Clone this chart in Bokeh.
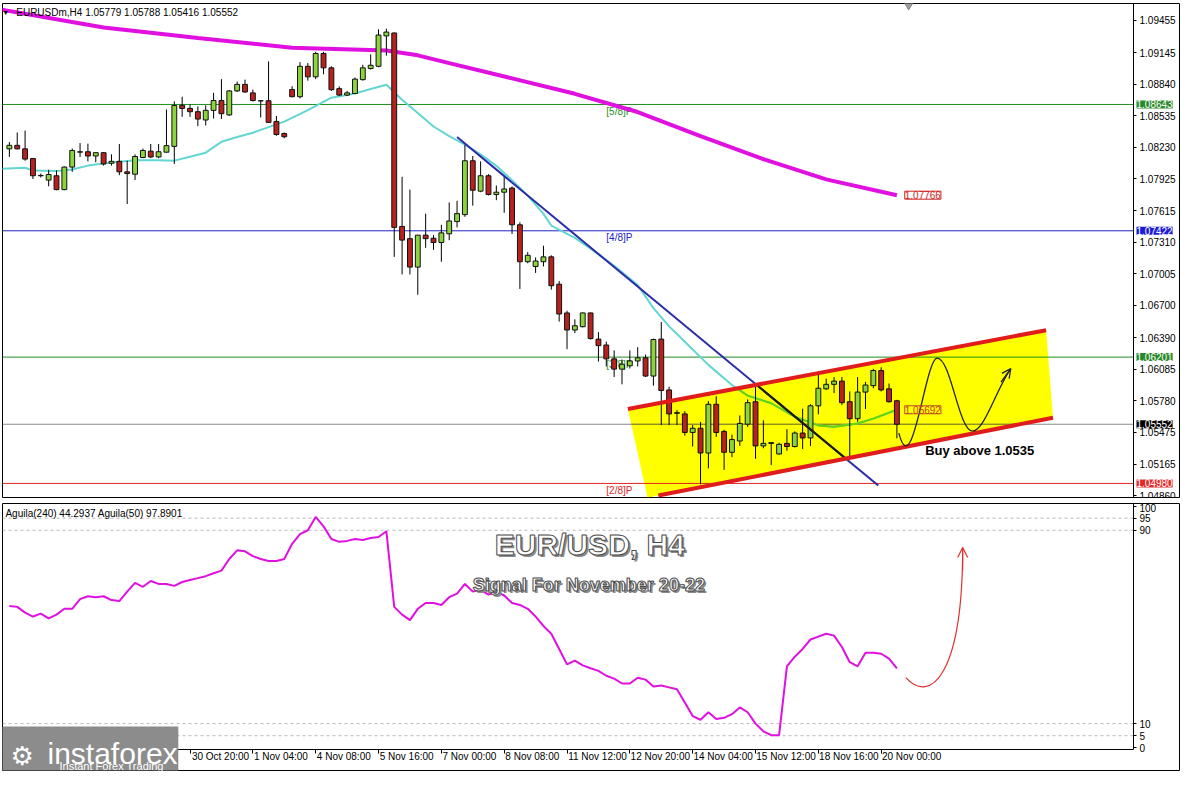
import numpy as np
from bokeh.plotting import figure
from bokeh.models import (Range1d, FixedTicker, PrintfTickFormatter, Label, LinearAxis,
                          Arrow, OpenHead, ColumnDataSource)
from bokeh.layouts import column
from bokeh.embed import file_html
from bokeh.resources import INLINE
from bokeh.core.properties import value

# ---------------- data ----------------
opens = [1.08214,1.08248,1.08214,1.08121,1.07954,1.07912,1.07954,1.07820,1.08038,1.08182,
         1.08186,1.08145,1.08177,1.08075,1.08093,1.07992,1.07969,1.08130,1.08192,1.08136,
         1.08182,1.08238,1.08635,1.08605,1.08573,1.08493,1.08586,1.08681,1.08542,1.08774,
         1.08837,1.08755,1.08677,1.08679,1.08479,1.08362,1.08787,1.08718,1.09012,1.08910,
         1.09136,1.08997,1.08796,1.08734,1.08749,1.08883,1.08990,1.09012,1.09306,1.09334,
         1.07464,1.07346,1.07071,1.07380,1.07350,1.07309,1.07393,1.07511,1.07578,1.08099,
         1.07805,1.07954,1.07773,1.07795,1.07835,1.07480,1.07123,1.07077,1.07123,1.07170,
         1.06906,1.06628,1.06463,1.06495,1.06628,1.06375,1.06318,1.06184,1.06085,1.06117,
         1.06164,1.06194,1.06018,1.06375,1.05884,1.05658,1.05652,1.05473,1.05513,1.05274,
         1.05745,1.05483,1.05281,1.05390,1.05553,1.05770,1.05343,1.05374,1.05265,1.05367,
         1.05337,1.05467,1.05420,1.05730,1.05894,1.05938,1.05969,1.05770,1.05606,1.05863,
         1.05925,1.06071,1.05894,1.05779]
highs = [1.08279,1.08372,1.08391,1.08124,1.07975,1.08012,1.08006,1.08044,1.08217,1.08270,
         1.08264,1.08180,1.08182,1.08161,1.08261,1.08099,1.08161,1.08217,1.08261,1.08261,
         1.08594,1.08673,1.08718,1.08642,1.08625,1.08635,1.08755,1.08888,1.08783,1.08865,
         1.08883,1.08787,1.08681,1.09059,1.08532,1.08372,1.08819,1.09052,1.09043,1.09152,
         1.09152,1.09012,1.08818,1.08774,1.08904,1.09027,1.09127,1.09369,1.09375,1.09339,
         1.07944,1.07820,1.07380,1.07587,1.07380,1.07480,1.07696,1.07712,1.08254,1.08145,
         1.08093,1.07969,1.07860,1.07950,1.07851,1.07504,1.07216,1.07164,1.07278,1.07185,
         1.06937,1.06649,1.06566,1.06632,1.06632,1.06442,1.06350,1.06266,1.06178,1.06266,
         1.06297,1.06225,1.06380,1.06540,1.05915,1.05689,1.05677,1.05544,1.05575,1.05776,
         1.05822,1.05498,1.05451,1.05637,1.05792,1.05946,1.05590,1.05374,1.05374,1.05504,
         1.05483,1.05702,1.05745,1.06055,1.05993,1.06008,1.06008,1.05869,1.06008,1.05962,
         1.06087,1.06102,1.05946,1.05788]
lows = [1.08136,1.08208,1.08099,1.07922,1.07938,1.07852,1.07814,1.07814,1.07992,1.08136,
        1.08093,1.08084,1.08052,1.08052,1.07960,1.07681,1.07912,1.08124,1.08124,1.08124,
        1.08177,1.08068,1.08523,1.08523,1.08433,1.08440,1.08507,1.08502,1.08533,1.08764,
        1.08755,1.08672,1.08517,1.08465,1.08340,1.08316,1.08712,1.08702,1.08873,1.08888,
        1.08935,1.08774,1.08725,1.08725,1.08743,1.08873,1.08981,1.09003,1.09115,1.07170,
        1.07000,1.07000,1.06804,1.07257,1.07238,1.07123,1.07331,1.07455,1.07557,1.07665,
        1.07795,1.07764,1.07718,1.07596,1.07391,1.06860,1.07108,1.07015,1.07077,1.06853,
        1.06544,1.06278,1.06433,1.06488,1.06371,1.06158,1.06110,1.06008,1.05938,1.06091,
        1.06110,1.06008,1.05925,1.05544,1.05544,1.05544,1.05442,1.05337,1.04971,1.05126,
        1.05430,1.05111,1.05234,1.05343,1.05526,1.05218,1.05320,1.05157,1.05259,1.05296,
        1.05327,1.05312,1.05343,1.05648,1.05884,1.05853,1.05739,1.05218,1.05575,1.05699,
        1.05900,1.05869,1.05761,1.05416]
closes = [1.08248,1.08214,1.08115,1.07954,1.07957,1.07966,1.07820,1.08038,1.08198,1.08186,
          1.08145,1.08177,1.08068,1.08093,1.07992,1.07975,1.08140,1.08198,1.08136,1.08186,
          1.08245,1.08633,1.08605,1.08573,1.08502,1.08586,1.08681,1.08554,1.08774,1.08837,
          1.08764,1.08681,1.08679,1.08470,1.08353,1.08331,1.08718,1.09012,1.08910,1.09136,
          1.08997,1.08786,1.08734,1.08755,1.08888,1.08997,1.09022,1.09314,1.09343,1.07455,
          1.07332,1.07071,1.07380,1.07346,1.07309,1.07402,1.07517,1.07588,1.08099,1.07814,
          1.07954,1.07773,1.07795,1.07826,1.07480,1.07123,1.07185,1.07130,1.07170,1.06891,
          1.06618,1.06463,1.06504,1.06628,1.06380,1.06312,1.06184,1.06085,1.06132,1.06164,
          1.06194,1.06018,1.06371,1.05878,1.05652,1.05664,1.05473,1.05513,1.05274,1.05745,
          1.05473,1.05281,1.05404,1.05560,1.05761,1.05343,1.05367,1.05367,1.05358,1.05337,
          1.05467,1.05420,1.05730,1.05900,1.05938,1.05969,1.05761,1.05606,1.05863,1.05931,
          1.06071,1.05884,1.05770,1.05552]
bar_idx = list(range(len(opens)))

ma21_idx = [-1,2,3,6,8,10,13,16,19,21,23,25,27,29,31,35,38,41,44,46,48,50,52,54,56,58,60,62,
            64,66,68,69,72,74,77,80,82,84,86,89,92,94,97,100,103,105,108,110,113]
ma21_val = [1.08022,1.08031,1.08004,1.08000,1.08015,1.08052,1.08082,1.08105,1.08105,1.08100,
            1.08138,1.08177,1.08282,1.08328,1.08370,1.08477,1.08588,1.08709,1.08749,1.08793,
            1.08833,1.08688,1.08560,1.08430,1.08337,1.08254,1.08161,1.08050,1.07910,1.07762,
            1.07585,1.07473,1.07353,1.07250,1.07083,1.06897,1.06674,1.06498,1.06349,1.06126,
            1.05931,1.05829,1.05755,1.05625,1.05541,1.05527,1.05560,1.05606,1.05692]

ma200_idx = [-1,12,24,36,48,52,56,64,72,80,88,96,104,113]
ma200_val = [1.09559,1.09387,1.09285,1.09192,1.09164,1.09118,1.09043,1.08895,1.08746,
             1.08570,1.08337,1.08114,1.07919,1.07766]

aguila240 = [58.7,58.3,55.9,54.3,55.5,53.5,55.1,57.5,57.5,61.5,
             62.7,62.3,62.7,61.1,60.7,64.6,68.2,66.6,69.0,67.8,
             67.8,67.0,68.6,69.4,70.2,71.0,72.2,73.3,78.1,81.7,
             81.3,79.3,78.1,77.3,77.3,78.1,84.4,88.4,90.0,95.5,
             91.6,86.4,85.2,85.6,86.4,86.0,86.8,87.2,89.6,58.3,
             55.1,52.8,57.5,59.9,59.9,59.1,62.3,63.8,67.8,64.6,
             65.4,63.4,64.6,63.0,59.9,59.1,57.5,54.3,50.4,47.2,
             40.9,34.5,36.1,34.1,32.9,31.8,29.8,28.6,26.6,26.6,
             29.0,28.2,25.4,25.8,25.0,24.2,18.7,13.1,11.6,14.7,
             11.9,12.4,13.9,16.7,14.7,10.0,6.8,5.2,5.2,33.7,
             37.7,40.9,44.8,46.0,47.2,46.4,41.7,35.4,33.7,39.3,
             39.3,38.9,36.9,32.9]

price_ticks = [1.09455,1.09145,1.08840,1.08535,1.08230,1.07925,1.07615,1.07310,1.07005,
               1.06700,1.06390,1.06085,1.05780,1.05475,1.05165,1.04860]
ind_ticks = [0,5,10,90,95,100]
ind_levels = [5,10,90,95]

xtick_idx = [23,31,39,47,55,63,71,79,87,95,103,111]
xtick_labels = ["30 Oct 20:00","1 Nov 04:00","4 Nov 08:00","5 Nov 16:00","7 Nov 00:00",
                "8 Nov 08:00","11 Nov 12:00","12 Nov 20:00","14 Nov 04:00","15 Nov 12:00",
                "18 Nov 16:00","20 Nov 00:00"]

level_vals = [1.08643, 1.07422, 1.06201, 1.04980]
level_names = ["[5/8]P", "[4/8]P", "[3/8]P", "[2/8]P"]
level_colors = ["#1f8f1f", "#2323c8", "#1f8f1f", "#e02424"]
tag_bg = ["#2a8a2a", "#1c1cd8", "#2a8a2a", "#e02828"]
last_price = 1.05552

# annotation geometry (bar index, price)
UP0, UP1 = (78.75, 1.05699), (132.0, 1.06461)
LO0, LO1 = (82.625, 1.04863), (132.875, 1.05615)
BAND_BL = (81.25, 1.04844)
TL0, TL1 = (57.0, 1.08328), (110.625, 1.04960)
ZIG = [  # cubic bezier segments: x0,y0,cx0,cy0,cx1,cy1,x1,y1
    (113.25, 1.05467, 115.0, 1.04956, 116.625, 1.06191, 118.125, 1.06191),
    (118.125, 1.06191, 119.875, 1.06191, 120.875, 1.05485, 122.625, 1.05485),
    (122.625, 1.05485, 124.125, 1.05485, 125.625, 1.05885, 127.5, 1.06089),
]
ZIG_ARROW = (126.25, 1.05959, 127.5, 1.06089)
RED_CURVE = (114.125, 29.0, 117.25, 17.9, 121.375, 29.8, 121.375, 82.9)
RED_ARROW = (121.375, 73.3, 121.375, 82.9)

FONT = "Liberation Sans"
FRAME_W = 1178
CHART_W = 1131
CHART_START, CHART_END = -0.875, 143.125
PX_PER_BAR = CHART_W / (CHART_END - CHART_START)
X_END = CHART_START + FRAME_W / PX_PER_BAR
IND_LO, IND_HI = -0.71, 101.07
IND_H = 246
LABEL_ZONE = 22
IND_PX_PER_UNIT = IND_H / (IND_HI - IND_LO)
GREEN = "#8cd43c"
RED = "#b8221e"


def yline(a, b, x):
    return a[1] + (b[1] - a[1]) * (x - a[0]) / (b[0] - a[0])


def intersect(a0, a1, b0, b1):
    ma = (a1[1] - a0[1]) / (a1[0] - a0[0]); ba = a0[1] - ma * a0[0]
    mb = (b1[1] - b0[1]) / (b1[0] - b0[0]); bb = b0[1] - mb * b0[0]
    x = (bb - ba) / (ma - mb)
    return x, ma * x + ba


def xat(a, b, y):
    return a[0] + (b[0] - a[0]) * (y - a[1]) / (b[1] - a[1])


def style_axis(ax):
    ax.major_label_text_font_size = "10px"
    ax.major_label_text_font = FONT
    ax.major_label_text_color = "black"
    ax.axis_line_color = "black"
    ax.major_tick_in = 0
    ax.minor_tick_in = 0
    ax.minor_tick_out = 0


x_rng = Range1d(CHART_START, X_END)

# ---------------- main price panel ----------------
p = figure(frame_width=FRAME_W, frame_height=494, x_range=x_rng,
           y_range=Range1d(1.04844, 1.09619), x_axis_location=None, y_axis_location=None,
           output_backend="svg", toolbar_location=None, min_border_left=2,
           min_border_right=0, min_border_top=3, min_border_bottom=6)
p.grid.visible = False
p.outline_line_color = "black"
ya = LinearAxis(fixed_location=CHART_END, ticker=FixedTicker(ticks=price_ticks),
                formatter=PrintfTickFormatter(format="%.5f"))
style_axis(ya)
ya.major_tick_out = 3
ya.major_label_standoff = 3
p.add_layout(ya, "right")

# yellow channel band
p.patch([UP0[0], UP1[0], LO1[0], LO0[0], BAND_BL[0]],
        [UP0[1], UP1[1], LO1[1], LO0[1], BAND_BL[1]],
        fill_color="#FFFF00", line_color=None)

# horizontal levels
for v, col in zip(level_vals, level_colors):
    p.segment(x0=CHART_START, x1=CHART_END, y0=v, y1=v, line_color=col, line_width=1)
p.segment(x0=CHART_START, x1=CHART_END, y0=last_price, y1=last_price,
          line_color="#8a8a8a", line_width=1)
xl = xat(UP0, BAND_BL, last_price)
xr = xat(LO0, LO1, last_price)
p.segment(x0=xl, x1=xr, y0=last_price, y1=last_price, line_color="#8a8a00", line_width=1)

# level labels
lbl_y = [1.08628, 1.07408, 1.06182, 1.04965]
p.text(x=[76.0] * 4, y=lbl_y, text=level_names, text_color=level_colors,
       text_font=value(FONT), text_font_size="10px", text_baseline="top", text_align="left")

# moving averages
p.line(ma200_idx, ma200_val, line_color="#E010E0", line_width=4)
p.line(ma21_idx, ma21_val, line_color="#62D6D2", line_width=2)
mx = np.array(ma21_idx, float); my = np.array(ma21_val)
d = my - np.array([yline(UP0, UP1, x) for x in mx])
k = next(j for j in range(len(mx)) if mx[j] >= UP0[0] and d[j] < 0)
t = d[k - 1] / (d[k - 1] - d[k])
cx = mx[k - 1] + t * (mx[k] - mx[k - 1]); cy = my[k - 1] + t * (my[k] - my[k - 1])
p.line([cx] + list(mx[k:]), [cy] + list(my[k:]), line_color="#66D400", line_width=2)

# candles
o = np.array(opens); c = np.array(closes)
src = ColumnDataSource(dict(x=bar_idx, hi=highs, lo=lows, top=np.maximum(o, c),
                            bottom=np.minimum(o, c),
                            fill=[GREEN if cc >= oo else RED for oo, cc in zip(o, c)]))
p.segment(x0="x", y0="hi", x1="x", y1="lo", source=src, line_color="black", line_width=1)
p.vbar(x="x", top="top", bottom="bottom", width=0.62, fill_color="fill",
       line_color="#111111", line_width=1, source=src)

# trend line (dark inside yellow band)
p.line([TL0[0], TL1[0]], [TL0[1], TL1[1]], line_color="#2c2ca8", line_width=2)
xin, yin = intersect(TL0, TL1, UP0, UP1)
xout, yout = intersect(TL0, TL1, LO0, LO1)
p.line([xin, xout], [yin, yout], line_color="#1c1c0c", line_width=2)

# channel lines
p.line([UP0[0], UP1[0]], [UP0[1], UP1[1]], line_color="#E01C1C", line_width=4)
p.line([LO0[0], LO1[0]], [LO0[1], LO1[1]], line_color="#E01C1C", line_width=4)

# projected zigzag
for s in ZIG:
    p.bezier(x0=[s[0]], y0=[s[1]], cx0=[s[2]], cy0=[s[3]], cx1=[s[4]], cy1=[s[5]],
             x1=[s[6]], y1=[s[7]], line_color="#222222", line_width=1.3)
p.add_layout(Arrow(end=OpenHead(size=9, line_color="#222222", line_width=1.3),
                   x_start=ZIG_ARROW[0], y_start=ZIG_ARROW[1], x_end=ZIG_ARROW[2],
                   y_end=ZIG_ARROW[3], line_color="#222222", line_width=1.3))

p.scatter(x=[114.5], y=[1.09612], marker="inverted_triangle", size=10,
          fill_color="#a0a0a0", line_color="#808080")

p.add_layout(Label(x=116.6, y=1.05300, text="Buy above 1.0535", text_font=FONT,
                   text_font_size="13px", text_font_style="bold", text_color="black",
                   text_baseline="middle", text_align="left"))
p.add_layout(Label(x=114.0, y=ma200_val[-1], text="1.07766", text_font=FONT,
                   text_font_size="10px", text_color="#d02020", text_baseline="middle",
                   background_fill_color="white", border_line_color="#d02020"))
p.add_layout(Label(x=114.0, y=ma21_val[-1], text="1.05692", text_font=FONT,
                   text_font_size="10px", text_color="#d04010", text_baseline="middle",
                   border_line_color="#b05030"))

p.add_layout(Label(x=-0.45, y=1.09536, text="\u25bc", text_font_size="7px",
                   text_color="black", text_baseline="middle", text_align="center"))
p.add_layout(Label(x=0.875, y=1.09536, text="EURUSDm,H4  1.05779 1.05788 1.05416 1.05552",
                   text_font=FONT, text_font_size="10px", text_color="black",
                   text_baseline="middle"))

tag_x = CHART_END + 3 / PX_PER_BAR
for v, bg in zip(level_vals + [last_price], tag_bg + ["#000000"]):
    p.add_layout(Label(x=tag_x, y=v, text="%.5f" % v, text_font=FONT,
                       text_font_size="10px", text_color="white", text_baseline="middle",
                       background_fill_color=bg))

# ---------------- indicator panel ----------------
ind_start = IND_LO - LABEL_ZONE / IND_PX_PER_UNIT
q = figure(frame_width=FRAME_W, frame_height=IND_H + LABEL_ZONE, x_range=x_rng,
           y_range=Range1d(ind_start, IND_HI), x_axis_location=None, y_axis_location=None,
           output_backend="svg", toolbar_location=None, min_border_left=2,
           min_border_right=0, min_border_top=0, min_border_bottom=0)
q.grid.visible = False
q.outline_line_color = "black"

qa = LinearAxis(fixed_location=CHART_END, ticker=FixedTicker(ticks=ind_ticks),
                bounds=(IND_LO, IND_HI))
style_axis(qa)
qa.major_tick_out = 3
qa.major_label_standoff = 3
q.add_layout(qa, "right")

# x axis: tick marks at the bars, labels start at the tick (MT4 style)
xa = LinearAxis(fixed_location=IND_LO, ticker=FixedTicker(ticks=xtick_idx),
                bounds=(CHART_START, CHART_END),
                major_label_overrides={i: "" for i in xtick_idx})
style_axis(xa)
xa.major_tick_out = 4
q.add_layout(xa, "below")
lab_pos = [i + (len(s) * 4.75 / 2 + 2) / PX_PER_BAR for i, s in zip(xtick_idx, xtick_labels)]
xb = LinearAxis(fixed_location=IND_LO, ticker=FixedTicker(ticks=lab_pos),
                major_label_overrides={pp: s for pp, s in zip(lab_pos, xtick_labels)})
style_axis(xb)
xb.axis_line_color = None
xb.major_tick_out = 0
xb.major_tick_line_color = None
xb.major_label_standoff = 1
q.add_layout(xb, "below")

q.segment(x0=[CHART_START] * len(ind_levels), x1=[CHART_END] * len(ind_levels),
          y0=ind_levels, y1=ind_levels, line_color="#b8b8b8", line_dash="3 3", line_width=1)

q.line(bar_idx, aguila240, line_color="#E010E0", line_width=2)

q.bezier(x0=[RED_CURVE[0]], y0=[RED_CURVE[1]], cx0=[RED_CURVE[2]], cy0=[RED_CURVE[3]],
         cx1=[RED_CURVE[4]], cy1=[RED_CURVE[5]], x1=[RED_CURVE[6]], y1=[RED_CURVE[7]],
         line_color="#e03030", line_width=1.2)
q.add_layout(Arrow(end=OpenHead(size=10, line_color="#e03030", line_width=1.2),
                   x_start=RED_ARROW[0], y_start=RED_ARROW[1], x_end=RED_ARROW[2],
                   y_end=RED_ARROW[3], line_color="#e03030", line_width=1.2))

q.add_layout(Label(x=-0.5, y=97.1, text="Aguila(240) 44.2937   Aguila(50) 97.8901",
                   text_font=FONT, text_font_size="10px", text_color="black",
                   text_baseline="middle"))

for txt, xx, yy, fs in [("EUR/USD, H4", 73.9, 84.0, "30px"),
                        ("Signal For  November 20-22", 74.1, 67.4, "18px")]:
    q.add_layout(Label(x=xx, y=yy, text=txt, x_offset=2, y_offset=-2, text_font=FONT,
                       text_font_size=fs, text_font_style="bold", text_color="#8a8a8a",
                       text_align="center", text_baseline="middle"))
    q.add_layout(Label(x=xx, y=yy, text=txt, text_font=FONT, text_font_size=fs,
                       text_font_style="bold", text_color="white",
                       text_outline_color="#4a4a4a", text_align="center",
                       text_baseline="middle"))

# logo (screen units from the frame's bottom-left corner)
q.add_layout(Label(x=-2, y=45, x_units="screen", y_units="screen", text=" " * 16,
                   text_font=FONT, text_font_size="40px", text_baseline="top",
                   background_fill_color="#8c8c8c", level="overlay"))
q.add_layout(Label(x=8, y=16, x_units="screen", y_units="screen", text="\u2699",
                   text_font="DejaVu Sans", text_font_size="26px", text_color="white",
                   text_baseline="alphabetic", level="overlay"))
q.add_layout(Label(x=45, y=18, x_units="screen", y_units="screen", text="instaforex",
                   text_font=FONT, text_font_size="30px", text_color="white",
                   text_baseline="alphabetic", level="overlay"))
q.add_layout(Label(x=57, y=6, x_units="screen", y_units="screen",
                   text="Instant Forex Trading", text_font=FONT, text_font_size="11px",
                   text_color="white", text_baseline="alphabetic", level="overlay"))

layout = column(p, q, spacing=0)
open("out.html", "w").write(file_html(layout, INLINE))
